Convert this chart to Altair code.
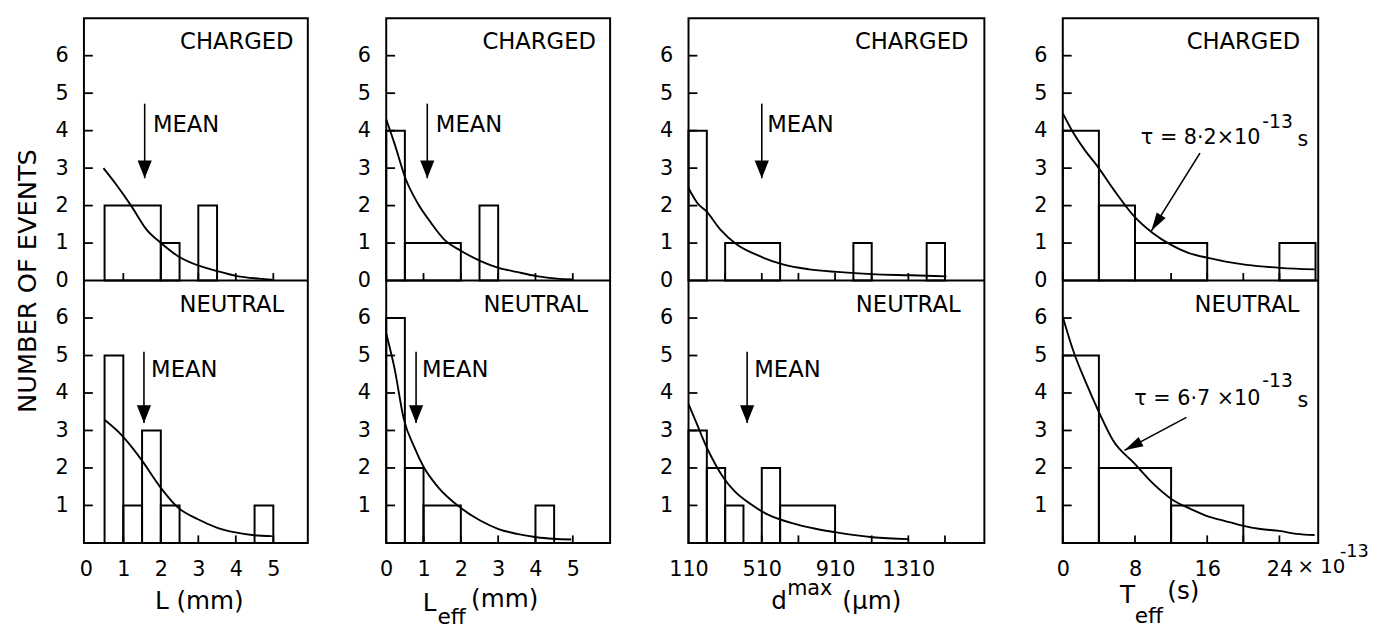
import altair as alt
import pandas as pd

FONT = "DejaVu Sans"
PANEL_H = 266          # height of one (charged or neutral) panel
H = 2 * PANEL_H        # charged panel stacked on top of neutral panel
OFF = 7                # charged counts are drawn above the neutral panel (0..7 | 7..14)

# ---------------- Column 1 : L (mm) ----------------
L_XDOM = [-0.05, 5.92]
L_TICKS = [1, 2, 3, 4, 5]
L_LABELS = [0, 1, 2, 3, 4, 5]
L_CH_LO = [0.5, 2.0, 3.0]
L_CH_HI = [2.0, 2.5, 3.5]
L_CH_N = [2, 1, 2]
L_NE_LO = [0.5, 1.0, 1.5, 2.0, 4.5]
L_NE_HI = [1.0, 1.5, 2.0, 2.5, 5.0]
L_NE_N = [5, 1, 3, 1, 1]
L_CH_FX = [0.47, 0.82, 1.22, 1.62, 2.02, 2.46, 3.03, 3.47, 4.03, 4.62, 4.97]
L_CH_FY = [3.0, 2.55, 1.98, 1.36, 0.99, 0.65, 0.39, 0.26, 0.12, 0.05, 0.02]
L_NE_FX = [0.49, 0.96, 1.49, 1.97, 2.46, 2.99, 3.49, 3.99, 4.44, 4.96]
L_NE_FY = [3.29, 2.87, 2.21, 1.51, 0.94, 0.63, 0.41, 0.28, 0.21, 0.18]
L_MEAN = [1.57, 1.55]          # charged, neutral
L_MEAN_TEXT_X = [1.79, 1.74]
L_TAG_X = [5.54, 5.29]         # right edge of CHARGED / NEUTRAL

# ---------------- Column 2 : L_eff (mm) ----------------
LE_XDOM = [0.0, 6.0]
LE_TICKS = [1, 2, 3, 4, 5]
LE_LABELS = [0, 1, 2, 3, 4, 5]
LE_CH_LO = [0.0, 0.5, 2.5]
LE_CH_HI = [0.5, 2.0, 3.0]
LE_CH_N = [4, 1, 2]
LE_NE_LO = [0.0, 0.5, 1.0, 4.0]
LE_NE_HI = [0.5, 1.0, 2.0, 4.5]
LE_NE_N = [6, 2, 1, 1]
LE_CH_FX = [0.0, 0.22, 0.53, 0.84, 1.2, 1.55, 2.01, 2.53, 3.01, 3.5, 4.03, 4.57, 5.0]
LE_CH_FY = [4.3, 3.66, 2.69, 2.07, 1.54, 1.1, 0.79, 0.52, 0.34, 0.23, 0.12, 0.05, 0.03]
LE_NE_FX = [0.0, 0.22, 0.47, 0.75, 1.0, 1.37, 1.99, 2.53, 3.01, 3.5, 4.03, 4.48, 4.96]
LE_NE_FY = [5.59, 4.67, 3.31, 2.56, 2.03, 1.51, 0.94, 0.59, 0.37, 0.24, 0.15, 0.11, 0.09]
LE_MEAN = [1.1, 0.8]
LE_MEAN_TEXT_X = [1.33, 0.96]
LE_TAG_X = [5.62, 5.41]

# ---------------- Column 3 : d^max (um) ----------------
D_XDOM = [110, 1725]
D_TICKS = [310, 510, 710, 910, 1110, 1310, 1510]
D_LABELS = [110, 510, 910, 1310]
D_CH_LO = [110, 310, 1010, 1410]
D_CH_HI = [210, 610, 1110, 1510]
D_CH_N = [4, 1, 1, 1]
D_NE_LO = [110, 210, 310, 510, 610]
D_NE_HI = [210, 310, 410, 610, 910]
D_NE_N = [3, 2, 1, 2, 1]
D_CH_FX = [110, 158, 207, 284, 374, 499, 625, 768, 921, 1109, 1325, 1518]
D_CH_FY = [2.47, 2.07, 1.85, 1.36, 0.96, 0.65, 0.43, 0.30, 0.23, 0.17, 0.14, 0.11]
D_NE_FX = [110, 155, 200, 254, 302, 361, 451, 541, 666, 810, 917, 1115, 1312]
D_NE_FY = [3.7, 3.18, 2.65, 2.12, 1.73, 1.38, 1.03, 0.76, 0.54, 0.37, 0.28, 0.15, 0.1]
D_MEAN = [510, 430]
D_MEAN_TEXT_X = [540, 469]
D_TAG_X = [1638, 1595]

# ---------------- Column 4 : T_eff (s) ----------------
T_XDOM = [0.0, 28.3]
T_TICKS = [4, 8, 12, 16, 20, 24]
T_LABELS = [0, 8, 16, 24]
T_CH_LO = [0, 4, 8, 24]
T_CH_HI = [4, 8, 16, 28]
T_CH_N = [4, 2, 1, 1]
T_NE_LO = [0, 4, 12]
T_NE_HI = [4, 12, 20]
T_NE_N = [5, 2, 1]
T_CH_FX = [0, 1.0, 2.44, 3.87, 5.66, 7.89, 9.96, 11.94, 13.9, 15.99, 18.2, 20.36, 24.1, 27.9]
T_CH_FY = [4.46, 4.01, 3.48, 3.04, 2.42, 1.72, 1.27, 0.96, 0.74, 0.61, 0.5, 0.42, 0.34, 0.3]
T_NE_FX = [0, 1.2, 2.65, 3.93, 5.56, 7.93, 9.93, 12.1, 14.3, 15.9, 17.9, 19.9, 21.9, 24.0, 25.9, 27.9]
T_NE_FY = [6.03, 5.1, 4.23, 3.53, 2.74, 2.12, 1.6, 1.16, 0.89, 0.72, 0.59, 0.46, 0.37, 0.32, 0.24, 0.21]
T_TAG_X = [26.3, 26.2]
# tau annotations: arrow start/tip, text anchors (charged, neutral)
TAU_MAIN = ["\u03c4 = 8\u00b72\u00d710", "\u03c4 = 6\u00b77 \u00d710"]
TAU_SUP = ["-13", "-13"]
TAU_UNIT = ["s", "s"]
TAU_ARROW_X = [15.2, 13.7]
TAU_ARROW_Y = [3.4, 3.35]
TAU_TIP_X = [9.8, 6.84]
TAU_TIP_Y = [1.32, 2.47]
TAU_MAIN_X = [21.9, 21.9]      # right edge of main text
TAU_MAIN_Y = [3.79, 3.84]
TAU_SUP_X = [22.1, 22.1]
TAU_SUP_Y = [4.22, 4.32]
TAU_UNIT_X = [26.0, 26.0]
TAU_UNIT_Y = [3.74, 3.79]

# common positions (in panel units)
MEAN_TOP = [4.72, 5.1]
MEAN_TIP = [2.73, 3.2]
MEAN_TEXT_Y = [4.14, 4.62]
TAG_Y = [6.37, 6.34]
TAGS = ["CHARGED", "NEUTRAL"]
BASES = [OFF, 0]

ARROW_PATH = "M0,0L0.4,1L-0.4,1Z"
TAU_PATH = "M0,0L0.28,1L-0.28,1Z"


def hist_df(ch, ne):
    rows = []
    for (lo, hi, n), b in ((ch, OFF), (ne, 0)):
        for a, c, k in zip(lo, hi, n):
            rows.append({"lo": a, "hi": c, "y0": b, "y1": b + k})
    return pd.DataFrame(rows)


def curve_df(chx, chy, nex, ney):
    rows = []
    for xs, ys, b, p in ((chx, chy, OFF, "ch"), (nex, ney, 0, "ne")):
        for a, c in zip(xs, ys):
            rows.append({"fx": a, "fy": c + b, "p": p})
    return pd.DataFrame(rows)


def make_column(xdom, width, xticks, xlabels, hist, curve, tag_x,
                mean=None, mean_tx=None, tau=False, first=False, titles=()):
    xs = alt.Scale(domain=xdom, nice=False, zero=False)
    ys = alt.Scale(domain=[0, 2 * OFF], nice=False, zero=False)
    yaxis = alt.Axis(
        values=[1, 2, 3, 4, 5, 6, 7, 8, 9, 10, 11, 12, 13],
        labelExpr="'' + (datum.value >= 7 ? datum.value - 7 : datum.value)",
        ticks=False, domain=False, grid=False, labelPadding=16,
        labelFontSize=21, labelFont=FONT, labelColor="black",
        labelOverlap=False,
        title="NUMBER OF EVENTS" if first else None,
        titleFontSize=26, titleFont=FONT, titleFontWeight="normal",
        titleColor="black", titlePadding=15,
    )
    xaxis = alt.Axis(
        values=xlabels, ticks=False, domain=False, grid=False, format="d",
        labelPadding=16, labelFontSize=21, labelFont=FONT,
        labelColor="black", labelFlush=False, labelOverlap=False,
        title=None,
    )

    def X(f):
        return alt.X(f, scale=xs, axis=xaxis)

    def Y(f):
        return alt.Y(f, scale=ys, axis=yaxis)

    layers = []
    layers.append(
        alt.Chart(hist).mark_rect(fillOpacity=0, stroke="black", strokeWidth=2)
        .encode(x=X("lo:Q"), x2="hi:Q", y=Y("y0:Q"), y2="y1:Q")
    )
    layers.append(
        alt.Chart(curve).mark_line(color="black", strokeWidth=1.9, interpolate="monotone")
        .encode(x=X("fx:Q"), y=Y("fy:Q"), detail="p:N")
    )
    # boundary between charged and neutral panels
    layers.append(
        alt.Chart(pd.DataFrame({"b": [OFF]})).mark_rule(color="black", strokeWidth=2)
        .encode(y=Y("b:Q"))
    )
    # inward x ticks at bottom of both panels
    tk = pd.DataFrame([{"t": t, "y0": b, "y1": b + 0.2} for b in BASES for t in xticks])
    layers.append(
        alt.Chart(tk).mark_rule(color="black", strokeWidth=1.8)
        .encode(x=X("t:Q"), y=Y("y0:Q"), y2="y1:Q")
    )
    # inward y ticks
    yt = pd.DataFrame({"v": [1, 2, 3, 4, 5, 6, 8, 9, 10, 11, 12, 13]})
    layers.append(
        alt.Chart(yt).mark_rule(color="black", strokeWidth=1.8)
        .encode(y=Y("v:Q"), x=alt.value(0), x2=alt.value(9))
    )
    # CHARGED / NEUTRAL tags
    tg = pd.DataFrame({"x": tag_x, "y": [TAG_Y[i] + BASES[i] for i in range(2)], "t": TAGS})
    layers.append(
        alt.Chart(tg).mark_text(align="right", baseline="middle", fontSize=23, font=FONT, color="black")
        .encode(x=X("x:Q"), y=Y("y:Q"), text="t:N")
    )
    if mean is not None:
        md = pd.DataFrame({
            "x": mean,
            "top": [MEAN_TOP[i] + BASES[i] for i in range(2)],
            "tip": [MEAN_TIP[i] + BASES[i] for i in range(2)],
            "tx": mean_tx,
            "ty": [MEAN_TEXT_Y[i] + BASES[i] for i in range(2)],
        })
        layers.append(
            alt.Chart(md).mark_rule(color="black", strokeWidth=1.6)
            .encode(x=X("x:Q"), y=Y("top:Q"), y2="tip:Q")
        )
        layers.append(
            alt.Chart(md).mark_point(shape=ARROW_PATH, filled=True, size=1296, angle=180,
                                     color="black", opacity=1)
            .encode(x=X("x:Q"), y=Y("tip:Q"))
        )
        layers.append(
            alt.Chart(md).mark_text(text="MEAN", align="left", baseline="middle",
                                    fontSize=23, font=FONT, color="black")
            .encode(x=X("tx:Q"), y=Y("ty:Q"))
        )
    if tau:
        td = pd.DataFrame({
            "ax": TAU_ARROW_X, "ay": [TAU_ARROW_Y[i] + BASES[i] for i in range(2)],
            "bx": TAU_TIP_X, "by": [TAU_TIP_Y[i] + BASES[i] for i in range(2)],
            "mx": TAU_MAIN_X, "my": [TAU_MAIN_Y[i] + BASES[i] for i in range(2)],
            "sx": TAU_SUP_X, "sy": [TAU_SUP_Y[i] + BASES[i] for i in range(2)],
            "ux": TAU_UNIT_X, "uy": [TAU_UNIT_Y[i] + BASES[i] for i in range(2)],
            "main": TAU_MAIN, "sup": TAU_SUP, "unit": TAU_UNIT,
            "ang": [212, 242],
        })
        layers.append(
            alt.Chart(td).mark_rule(color="black", strokeWidth=1.6)
            .encode(x=X("ax:Q"), x2="bx:Q", y=Y("ay:Q"), y2="by:Q")
        )
        layers.append(
            alt.Chart(td).mark_point(shape=TAU_PATH, filled=True, size=1444, color="black", opacity=1)
            .encode(x=X("bx:Q"), y=Y("by:Q"), angle=alt.Angle("ang:Q", scale=None))
        )
        layers.append(
            alt.Chart(td).mark_text(align="right", baseline="middle", fontSize=21, font=FONT, color="black")
            .encode(x=X("mx:Q"), y=Y("my:Q"), text="main:N")
        )
        layers.append(
            alt.Chart(td).mark_text(align="left", baseline="middle", fontSize=19, font=FONT, color="black")
            .encode(x=X("sx:Q"), y=Y("sy:Q"), text="sup:N")
        )
        layers.append(
            alt.Chart(td).mark_text(align="left", baseline="middle", fontSize=21, font=FONT, color="black")
            .encode(x=X("ux:Q"), y=Y("uy:Q"), text="unit:N")
        )
    one = pd.DataFrame({"a": [0]})
    for txt, px, py, fs, al in titles:
        layers.append(
            alt.Chart(one).mark_text(text=txt, align=al, baseline="middle", fontSize=fs,
                                     font=FONT, color="black")
            .encode(x=alt.value(px), y=alt.value(py))
        )
    return alt.layer(*layers).properties(width=width, height=H)


col1 = make_column(
    L_XDOM, 227, L_TICKS, L_LABELS,
    hist_df((L_CH_LO, L_CH_HI, L_CH_N), (L_NE_LO, L_NE_HI, L_NE_N)),
    curve_df(L_CH_FX, L_CH_FY, L_NE_FX, L_NE_FY), L_TAG_X,
    mean=L_MEAN, mean_tx=L_MEAN_TEXT_X, first=True,
    titles=[("L (mm)", 117, 591, 25, "center")],
)
col2 = make_column(
    LE_XDOM, 227, LE_TICKS, LE_LABELS,
    hist_df((LE_CH_LO, LE_CH_HI, LE_CH_N), (LE_NE_LO, LE_NE_HI, LE_NE_N)),
    curve_df(LE_CH_FX, LE_CH_FY, LE_NE_FX, LE_NE_FY), LE_TAG_X,
    mean=LE_MEAN, mean_tx=LE_MEAN_TEXT_X,
    titles=[("L", 37, 593, 25, "left"), ("eff", 52, 607, 22, "left"),
            ("(mm)", 86, 589, 25, "left")],
)
col3 = make_column(
    D_XDOM, 300, D_TICKS, D_LABELS,
    hist_df((D_CH_LO, D_CH_HI, D_CH_N), (D_NE_LO, D_NE_HI, D_NE_N)),
    curve_df(D_CH_FX, D_CH_FY, D_NE_FX, D_NE_FY), D_TAG_X,
    mean=D_MEAN, mean_tx=D_MEAN_TEXT_X,
    titles=[("d", 84, 591, 25, "left"), ("max", 100, 579, 21, "left"),
            ("(\u03bcm)", 156, 591, 25, "left")],
)
col4 = make_column(
    T_XDOM, 259, T_TICKS, T_LABELS,
    hist_df((T_CH_LO, T_CH_HI, T_CH_N), (T_NE_LO, T_NE_HI, T_NE_N)),
    curve_df(T_CH_FX, T_CH_FY, T_NE_FX, T_NE_FY), T_TAG_X,
    tau=True,
    titles=[("T", 58, 585, 25, "left"), ("eff", 73, 606, 22, "left"),
            ("(s)", 106, 581, 25, "left"),
            ("\u00d7 10", 238, 557, 20, "left"), ("-13", 281, 541, 18, "left")],
)

chart = (
    alt.hconcat(col1, col2, col3, col4, spacing=46.5)
    .properties(padding={"left": 5, "top": 5, "right": 0, "bottom": 0})
    .configure(font=FONT)
    .configure_view(stroke="black", strokeWidth=2)
)

chart.save("out.html", embed_options={"renderer": "svg", "actions": False})
